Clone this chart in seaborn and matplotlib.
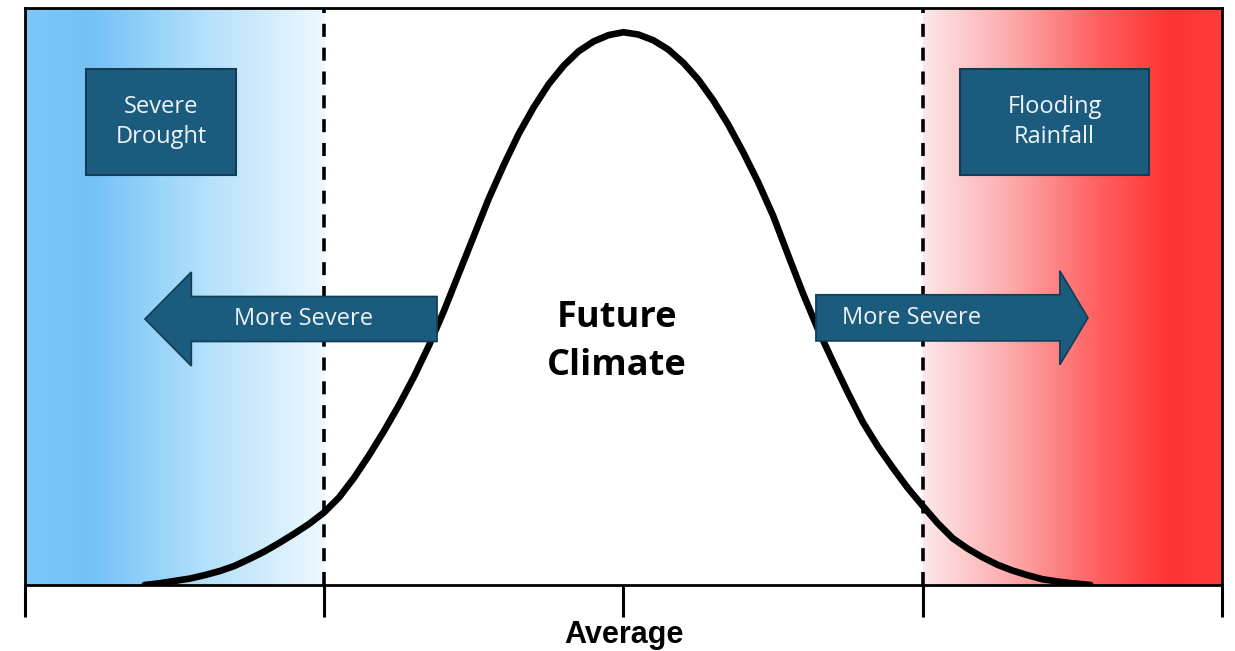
import numpy as np
import pandas as pd
import matplotlib
matplotlib.use("Agg")
import matplotlib.pyplot as plt
import seaborn as sns
from matplotlib.colors import LinearSegmentedColormap
from matplotlib.patches import Rectangle, FancyArrow

# ---- data ----
curve_x = [-1.60, -1.55, -1.50, -1.45, -1.40, -1.35, -1.30, -1.25, -1.20, -1.15,
           -1.10, -1.05, -1.00, -0.95, -0.90, -0.85, -0.80, -0.75, -0.70, -0.65,
           -0.60, -0.55, -0.50, -0.45, -0.40, -0.35, -0.30, -0.25, -0.20, -0.15,
           -0.10, -0.05, 0.00, 0.05, 0.10, 0.15, 0.20, 0.25, 0.30, 0.35,
           0.40, 0.45, 0.50, 0.55, 0.60, 0.65, 0.70, 0.75, 0.80, 0.85,
           0.90, 0.95, 1.00, 1.05, 1.10, 1.15, 1.20, 1.25, 1.30, 1.35,
           1.40, 1.45, 1.50, 1.56]
curve_y = [0.000, 0.003, 0.007, 0.011, 0.017, 0.024, 0.033, 0.045, 0.058, 0.073,
           0.089, 0.106, 0.126, 0.152, 0.186, 0.225, 0.267, 0.312, 0.361, 0.415,
           0.475, 0.540, 0.605, 0.670, 0.728, 0.782, 0.828, 0.868, 0.900, 0.925,
           0.942, 0.953, 0.958, 0.954, 0.944, 0.928, 0.905, 0.876, 0.840, 0.798,
           0.750, 0.698, 0.640, 0.572, 0.505, 0.443, 0.387, 0.333, 0.282, 0.240,
           0.203, 0.168, 0.137, 0.107, 0.081, 0.063, 0.048, 0.035, 0.025, 0.017,
           0.010, 0.006, 0.003, 0.000]

tick_pos = [-2, -1, 0, 1, 2]
tick_labels = ["", "", "Average", "", ""]
threshold_x = [-1, 1]

drought_zone = [-2, -1]
flood_zone = [1, 2]

box_labels = ["Severe\nDrought", "Flooding\nRainfall"]
box_x = [(-1.796, -1.295), (1.124, 1.756)]
box_y = (0.711, 0.894)

arrow_label = "More Severe"
center_label = "Future\nClimate"

# ---- style ----
sns.set_theme(style="white")
plt.rcParams['font.family'] = ['Open Sans', 'DejaVu Sans']

fig = plt.figure(figsize=(12.35, 6.51), dpi=100)
ax = fig.add_axes([0.0202, 0.1014, 0.9693, 0.8863])

# gradient zones
blue_cmap = LinearSegmentedColormap.from_list(
    "blue", [(0.0, "#7cc8f8"), (0.22, "#72c2f7"), (0.6, "#b3e0fb"), (1.0, "#eef8fe")])
red_cmap = LinearSegmentedColormap.from_list(
    "red", [(0.0, "#fde8e9"), (0.3, "#fca8a9"), (0.6, "#ff5c5c"), (0.82, "#ff3434"), (1.0, "#ff3b3b")])
grad = np.linspace(0, 1, 512).reshape(1, -1)
ax.imshow(grad, cmap=blue_cmap, aspect="auto",
          extent=[drought_zone[0], drought_zone[1], 0, 1], zorder=0)
ax.imshow(grad, cmap=red_cmap, aspect="auto",
          extent=[flood_zone[0], flood_zone[1], 0, 1], zorder=0)
ax.set_xlim(-2, 2)
ax.set_ylim(0, 1)

# thresholds
for xv in threshold_x:
    ax.axvline(xv, color="black", lw=2.6, dashes=(3.6, 3.0), zorder=2)

# curve
df = pd.DataFrame({"x": curve_x, "y": curve_y})
sns.lineplot(data=df, x="x", y="y", ax=ax, color="black", lw=4.8,
             sort=False, zorder=3, solid_capstyle="round", solid_joinstyle="round")
ax.set_xlabel("")
ax.set_ylabel("")

navy = "#1b5c7e"
navy_edge = "#123d55"
light = "#eef3f6"

# boxes
for (x0, x1), lab in zip(box_x, box_labels):
    ax.add_patch(Rectangle((x0, box_y[0]), x1 - x0, box_y[1] - box_y[0],
                           facecolor=navy, edgecolor=navy_edge, lw=1.5, zorder=4))
    ax.text((x0 + x1) / 2, (box_y[0] + box_y[1]) / 2, lab, ha="center", va="center",
            color=light, fontsize=17, linespacing=1.35, zorder=5)

# arrows
arrow_specs = [
    # tail x, center y, dx, body width, head width, head length, text x
    (-0.623, 0.461, -0.976, 0.078, 0.163, 0.155, -1.07),
    (0.643, 0.463, 0.909, 0.080, 0.163, 0.094, 0.962),
]
for tx, cy, dx, bw, hw, hl, txt_x in arrow_specs:
    ax.add_patch(FancyArrow(tx, cy, dx, 0, width=bw, head_width=hw, head_length=hl,
                            length_includes_head=True, facecolor=navy,
                            edgecolor=navy_edge, lw=1.2, zorder=4))
    ax.text(txt_x, cy, arrow_label, ha="center", va="center", color=light,
            fontsize=17, zorder=5)

ax.text(-0.022, 0.421, center_label, ha="center", va="center", color="black",
        fontsize=26, fontweight="bold", linespacing=1.42, zorder=5)

# axes styling
for s in ax.spines.values():
    s.set_visible(True)
    s.set_color("black")
    s.set_linewidth(2.0)
ax.set_yticks([])
ax.set_xticks(tick_pos)
ax.set_xticklabels(tick_labels, fontfamily="Liberation Sans", fontweight="bold",
                   fontsize=22, color="black")
ax.tick_params(axis="x", which="major", direction="out", length=23, width=2.2,
               color="black", labelcolor="black", pad=2, bottom=True)

fig.savefig("out.png", dpi=100)
